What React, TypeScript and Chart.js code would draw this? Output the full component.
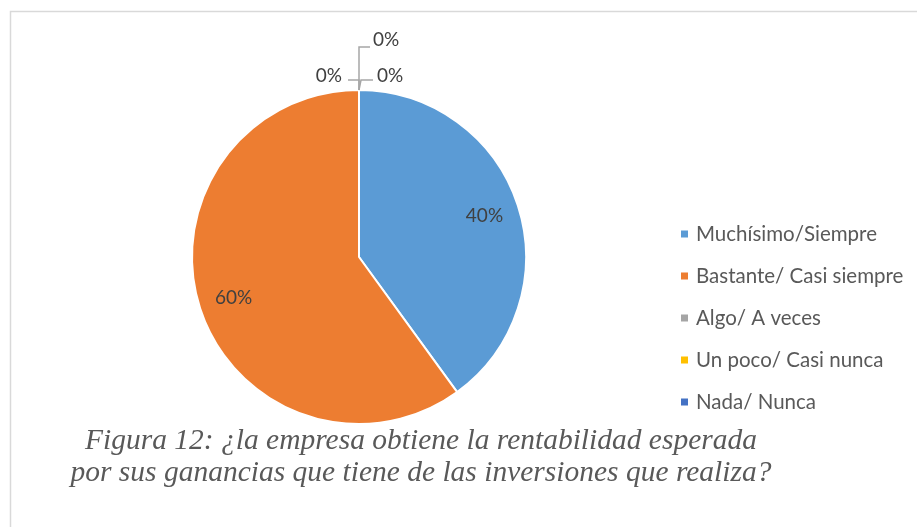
import React, { useEffect, useRef } from "react";
import { Chart, registerables } from "chart.js";

Chart.register(...registerables);

const categories = [
  "Muchísimo/Siempre",
  "Bastante/ Casi siempre",
  "Algo/ A veces",
  "Un poco/ Casi nunca",
  "Nada/ Nunca",
];
const values = [40, 60, 0, 0, 0];
const colors = ["#5B9BD5", "#ED7D31", "#A5A5A5", "#FFC000", "#4472C4"];
const titleLines = [
  "Figura 12: ¿la empresa obtiene la rentabilidad esperada",
  "por sus ganancias que tiene de las inversiones que realiza?",
];

const LABEL_FONT = '19px Lato, "Open Sans", sans-serif';
const LEGEND_FONT = '20.5px Lato, "Open Sans", sans-serif';
const TEXT_COLOR = "#404040";
const LEGEND_COLOR = "#595959";
const LEADER_COLOR = "#A6A6A6";

// offsets of leader lines / labels for zero-value slices, relative to slice anchor
const zeroLayouts = [
  { path: [[0, 0], [0, -10], [-11, -10]], lx: -17, ly: -14, align: "right" },
  { path: [[0, 0], [2, -10], [14, -10]], lx: 18, ly: -14, align: "left" },
  { path: [[0, 0], [0, -43], [11, -43]], lx: 14, ly: -50, align: "left" },
];

const customPlugin = {
  id: "customDraw",
  beforeDraw(chart: any) {
    const ctx = chart.ctx;
    ctx.save();
    ctx.fillStyle = "#ffffff";
    ctx.fillRect(0, 0, chart.width, chart.height);
    ctx.strokeStyle = "#D9D9D9";
    ctx.lineWidth = 1.5;
    ctx.beginPath();
    ctx.moveTo(10.5, chart.height);
    ctx.lineTo(10.5, 11.5);
    ctx.lineTo(chart.width, 11.5);
    ctx.stroke();
    ctx.restore();
  },
  afterDraw(chart: any) {
    const ctx = chart.ctx;
    const meta = chart.getDatasetMeta(0);
    const data = chart.data.datasets[0].data as number[];
    const total = data.reduce((a: number, b: number) => a + b, 0);
    ctx.save();
    let zi = 0;
    meta.data.forEach((el: any, i: number) => {
      const p = el.getProps(["x", "y", "startAngle", "endAngle", "outerRadius"], true);
      const pct = Math.round((data[i] / total) * 100) + "%";
      ctx.font = LABEL_FONT;
      ctx.fillStyle = TEXT_COLOR;
      ctx.textBaseline = "middle";
      if (data[i] > 0) {
        const mid = (p.startAngle + p.endAngle) / 2;
        const r = p.outerRadius * 0.79;
        ctx.textAlign = "center";
        ctx.fillText(pct, p.x + Math.cos(mid) * r, p.y + Math.sin(mid) * r);
      } else {
        const ax = p.x + Math.cos(p.startAngle) * p.outerRadius;
        const ay = p.y + Math.sin(p.startAngle) * p.outerRadius;
        const lay = zeroLayouts[zi % zeroLayouts.length];
        zi++;
        ctx.strokeStyle = LEADER_COLOR;
        ctx.lineWidth = 1.5;
        ctx.beginPath();
        lay.path.forEach((pt, k) => {
          if (k === 0) ctx.moveTo(ax + pt[0], ay + pt[1]);
          else ctx.lineTo(ax + pt[0], ay + pt[1]);
        });
        ctx.stroke();
        ctx.fillStyle = TEXT_COLOR;
        ctx.textAlign = lay.align as CanvasTextAlign;
        ctx.fillText(pct, ax + lay.lx, ay + lay.ly);
      }
    });

    // legend
    const legendX = 681;
    const legendY0 = 234;
    const legendStep = 42;
    ctx.font = LEGEND_FONT;
    ctx.textAlign = "left";
    ctx.textBaseline = "middle";
    (chart.data.labels as string[]).forEach((lab: string, i: number) => {
      const y = legendY0 + i * legendStep;
      ctx.fillStyle = colors[i];
      ctx.fillRect(legendX, y - 3.5, 7, 7);
      ctx.fillStyle = LEGEND_COLOR;
      ctx.fillText(lab, legendX + 15, y);
    });

    // caption
    ctx.font = 'italic 29px "Liberation Serif", "Times New Roman", Times, serif';
    ctx.fillStyle = "#595959";
    ctx.textBaseline = "alphabetic";
    ctx.textAlign = "center";
    const w0 = ctx.measureText(titleLines[0]).width;
    const sx = 672 / w0;
    titleLines.forEach((line, i) => {
      ctx.save();
      ctx.translate(421, 449 + i * 32);
      ctx.scale(sx, 1);
      ctx.fillText(line, 0, 0);
      ctx.restore();
    });
    ctx.restore();
  },
};

export default function App() {
  const ref = useRef<HTMLCanvasElement | null>(null);
  useEffect(() => {
    document.body.style.margin = "0";
    if (!ref.current) return;
    const chart = new Chart(ref.current, {
      type: "pie",
      data: {
        labels: categories,
        datasets: [
          {
            data: values,
            backgroundColor: colors,
            borderColor: "#ffffff",
            borderWidth: 2,
          },
        ],
      },
      options: {
        responsive: false,
        animation: false,
        layout: { padding: { left: 191, right: 390, top: 89, bottom: 102 } },
        plugins: {
          legend: { display: false },
          tooltip: { enabled: false },
          title: { display: false },
        },
      },
      plugins: [customPlugin],
    });
    return () => chart.destroy();
  }, []);
  return (
    <div style={{ width: 917, height: 527 }}>
      <canvas ref={ref} width={917} height={527} />
    </div>
  );
}
